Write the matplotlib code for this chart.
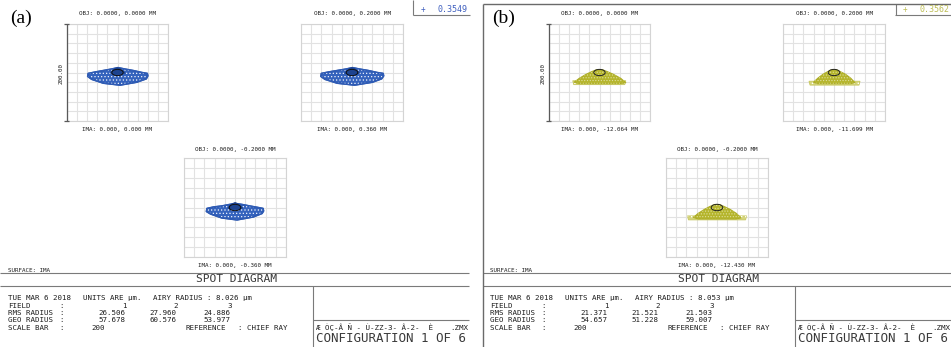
import matplotlib
matplotlib.use("Agg")
import matplotlib.pyplot as plt
import numpy as np
from matplotlib.lines import Line2D
from matplotlib.patches import Polygon, Ellipse

# ---------------------------------------------------------------- data
OBJ_LABELS = ["OBJ: 0.0000, 0.0000 MM", "OBJ: 0.0000, 0.2000 MM", "OBJ: 0.0000, -0.2000 MM"]
IMA_LABELS_A = ["IMA: 0.000, 0.000 MM", "IMA: 0.000, 0.360 MM", "IMA: 0.000, -0.360 MM"]
IMA_LABELS_B = ["IMA: 0.000, -12.064 MM", "IMA: 0.000, -11.699 MM", "IMA: 0.000, -12.430 MM"]
FIELDS = [1, 2, 3]
RMS_A = [26.506, 27.960, 24.886]
GEO_A = [57.678, 60.576, 53.977]
RMS_B = [21.371, 21.521, 21.503]
GEO_B = [54.657, 51.228, 59.007]
AIRY_A = 8.026
AIRY_B = 8.053
SCALE_BAR = 200
WAVE_A = 0.3549
WAVE_B = 0.3562

# spot envelopes in micrometres (x, y) relative to the chief ray
FAN_A1_X = [-58, -44, -28, -12, 1, 15, 31, 48, 59, 60, 57, 38, 5, -28, -51, -59]
FAN_A1_Y = [-2, 1, 4, 7, 10, 7, 4, 0, -2, -7, -13, -20, -26, -22, -14, -8]
FAN_A2_X = [-60, -46, -29, -12, 1, 15, 32, 49, 61, 62, 58, 40, 5, -29, -53, -61]
FAN_A2_Y = [-2, 1, 4, 7, 10, 7, 4, 0, -2, -7, -13, -20, -26, -22, -14, -8]
FAN_A3_X = [-55, -42, -26, -11, 1, 14, 29, 45, 55, 56, 53, 36, 4, -26, -48, -56]
FAN_A3_Y = [-2, 1, 3, 6, 8, 6, 3, 0, -2, -7, -12, -19, -25, -21, -13, -8]
DOME_A_X = [-14, -10, -5, 0, 5, 10, 15, 8, -8]
DOME_A_Y = [-1, 4, 8, 10, 8, 4, -1, -4, -4]

BODY_B1_X = [-50, -40, -27, -15, -5, 5, 15, 28, 42, 52, 40, -40]
BODY_B1_Y = [-20, -12, -4, 2, 6, 6, 2, -4, -12, -21, -23, -23]
BAND_B1_X = [-53, 52, 50, -51]
BAND_B1_Y = [-17, -17, -25, -25]
BODY_B2_X = [-40, -32, -22, -12, -4, 4, 12, 23, 33, 41, 32, -32]
BODY_B2_Y = [-20, -12, -4, 2, 6, 6, 2, -4, -12, -21, -23, -23]
BAND_B2_X = [-49, 51, 49, -47]
BAND_B2_Y = [-18, -18, -26, -26]
BODY_B3_X = [-46, -37, -25, -14, -5, 5, 14, 26, 38, 47, 37, -37]
BODY_B3_Y = [-20, -12, -4, 2, 6, 6, 2, -4, -12, -21, -23, -23]
BAND_B3_X = [-58, 58, 56, -56]
BAND_B3_Y = [-17, -17, -25, -25]

# ---------------------------------------------------------------- figure
W, H = 951, 347
plt.rcParams["font.family"] = ["DejaVu Sans Mono"]
plt.rcParams["hatch.linewidth"] = 0.5
fig = plt.figure(figsize=(W / 100, H / 100), dpi=100)
fig.patch.set_facecolor("white")

TXT = "#1e1e1e"
LINE = "#7a7a7a"


def T(x, y, s, size=5.4, ha="left", va="center", color=TXT, **kw):
    fig.text(x / W, 1 - y / H, s, fontsize=size, ha=ha, va=va, color=color, **kw)


def L(x0, y0, x1, y1, color=LINE, lw=0.8):
    fig.add_artist(Line2D([x0 / W, x1 / W], [1 - y0 / H, 1 - y1 / H],
                          transform=fig.transFigure, color=color, lw=lw,
                          solid_capstyle="butt"))


GRID = np.arange(-100, 101, 20)


def spot_axes(x0, y0, x1, y1):
    ax = fig.add_axes([x0 / W, 1 - y1 / H, (x1 - x0) / W, (y1 - y0) / H])
    ax.set_xlim(-SCALE_BAR / 2, SCALE_BAR / 2)
    ax.set_ylim(-SCALE_BAR / 2, SCALE_BAR / 2)
    ax.set_xticks(GRID)
    ax.set_yticks(GRID)
    ax.grid(True, color="#e2e2e2", lw=0.8)
    ax.tick_params(length=0, labelbottom=False, labelleft=False)
    for sp in ax.spines.values():
        sp.set_color("#d4d4d4")
        sp.set_linewidth(0.8)
    ax.set_axisbelow(True)
    return ax


def draw_fan(ax, xs, ys, airy):
    pts = np.column_stack([xs, ys])
    ax.add_patch(Polygon(pts, closed=True, facecolor="#3563bd",
                         edgecolor="#2a55ad", lw=1.2, joinstyle="round", zorder=3))
    ax.add_patch(Polygon(pts, closed=True, facecolor="none",
                         edgecolor="#eef2fb", lw=0, hatch=".....", zorder=4))
    ax.add_patch(Polygon(pts, closed=True, facecolor="none",
                         edgecolor="#2f5cb5", lw=1.0, joinstyle="round", zorder=4))
    ax.add_patch(Polygon(np.column_stack([DOME_A_X, DOME_A_Y]), closed=True,
                         facecolor="#1d438f", edgecolor="#1d438f", lw=0.6, zorder=5))
    ax.add_patch(Ellipse((0, 0), 2 * airy * 1.4, 2 * airy * 0.8, facecolor="none",
                         edgecolor="#111111", lw=0.7, zorder=6))


def draw_hill(ax, bx, by, nx, ny, airy):
    band = np.column_stack([nx, ny])
    ax.add_patch(Polygon(band, closed=True, facecolor="#d4d47c",
                         edgecolor="#c8c860", lw=0.6, zorder=3))
    ax.add_patch(Polygon(band, closed=True, facecolor="none",
                         edgecolor="white", lw=0, hatch="....", zorder=4))
    body = np.column_stack([bx, by])
    ax.add_patch(Polygon(body, closed=True, facecolor="#b5b52c",
                         edgecolor="#adad26", lw=0.8, joinstyle="round", zorder=5))
    ax.add_patch(Polygon(body, closed=True, facecolor="none",
                         edgecolor="#dede9a", lw=0, hatch="......", zorder=5))
    ax.add_patch(Ellipse((0, 0), 2 * airy * 1.4, 2 * airy * 0.8, facecolor="none",
                         edgecolor="#222222", lw=0.7, zorder=6))


def panel(ox, label, ima_labels, rms, geo, airy, wave, wave_color, spots, bordered):
    # plot boxes
    boxes = [(67, 24, 168, 121), (301, 24, 403, 121), (184, 158, 286, 257)]
    obj_y = [13, 13, 149]
    ima_y = [130, 130, 266]
    for i, (x0, y0, x1, y1) in enumerate(boxes):
        ax = spot_axes(ox + x0, y0, ox + x1, y1)
        spots[i](ax)
        cx = ox + (x0 + x1) / 2
        T(cx, obj_y[i], OBJ_LABELS[i], size=4.2, ha="center")
        T(cx, ima_y[i], ima_labels[i], size=4.2, ha="center")

    # scale bar on the first plot
    sx = ox + 67
    L(sx, 24, sx, 121, color="#5a5a5a", lw=0.9)
    L(sx - 3, 24, sx + 2, 24, color="#5a5a5a", lw=0.9)
    L(sx - 3, 121, sx + 2, 121, color="#5a5a5a", lw=0.9)
    T(ox + 61.5, 74, f"{SCALE_BAR:.2f}", size=4.2, ha="center", rotation=90)

    # panel tag
    T(ox + 10, 18, label, size=14, color="black", family="Liberation Serif")

    # wavelength legend
    if bordered:
        L(ox + 414, 4, ox + 414, 15)
    else:
        L(ox + 413, 0, ox + 413, 15)
    L(ox + 413, 15, ox + 470, 15)
    T(ox + 421, 9.5, "+", size=5.5, color=wave_color)
    T(ox + 468, 9.5, f"{wave:.4f}", size=6, ha="right", color=wave_color)

    # footer frame
    right = ox + 469
    L(ox + (1 if bordered else 0), 273, right, 273)
    L(ox + (1 if bordered else 0), 285.5, right, 285.5)
    L(ox + 313, 285.5, ox + 313, H)
    L(ox + 313, 320, right, 320)

    T(ox + 8, 270, "SURFACE: IMA", size=4.2)
    T(ox + 236, 279, "SPOT DIAGRAM", size=8.1, ha="center", color="#3a3a3a")

    rows = [298, 305.5, 313, 320.5, 328]
    T(ox + 8, rows[0], "TUE MAR 6 2018", size=5.4)
    T(ox + 83, rows[0], "UNITS ARE µm.", size=5.4)
    T(ox + 153, rows[0], f"AIRY RADIUS : {airy:.3f} µm", size=5.4)
    names = ["FIELD", "RMS RADIUS", "GEO RADIUS", "SCALE BAR"]
    for name, y in zip(names, rows[1:]):
        T(ox + 8, y, name, size=5.4)
        T(ox + 59, y, ":", size=5.4)
    col_right = [125, 176, 230]
    for j in range(3):
        T(ox + col_right[j] + 2, rows[1], f"{FIELDS[j]}", size=5.4, ha="right")
        T(ox + col_right[j], rows[2], f"{rms[j]:.3f}", size=5.4, ha="right")
        T(ox + col_right[j], rows[3], f"{geo[j]:.3f}", size=5.4, ha="right")
    T(ox + 91, rows[4], f"{SCALE_BAR}", size=5.4)
    T(ox + 186, rows[4], "REFERENCE", size=5.4)
    T(ox + 238, rows[4], ": CHIEF RAY", size=5.4)

    T(ox + 316, 327.5, "Æ ÒÇ-Â Ñ - Ù-ZZ-3- Â-2-  È", size=5.4)
    T(ox + 468, 327.5, ".ZMX", size=5.4, ha="right")
    T(ox + 316, 338, "CONFIGURATION 1 OF 6", size=9, color="#3a3a3a")


spots_a = [
    lambda ax: draw_fan(ax, FAN_A1_X, FAN_A1_Y, AIRY_A),
    lambda ax: draw_fan(ax, FAN_A2_X, FAN_A2_Y, AIRY_A),
    lambda ax: draw_fan(ax, FAN_A3_X, FAN_A3_Y, AIRY_A),
]
spots_b = [
    lambda ax: draw_hill(ax, BODY_B1_X, BODY_B1_Y, BAND_B1_X, BAND_B1_Y, AIRY_B),
    lambda ax: draw_hill(ax, BODY_B2_X, BODY_B2_Y, BAND_B2_X, BAND_B2_Y, AIRY_B),
    lambda ax: draw_hill(ax, BODY_B3_X, BODY_B3_Y, BAND_B3_X, BAND_B3_Y, AIRY_B),
]

panel(0, "(a)", IMA_LABELS_A, RMS_A, GEO_A, AIRY_A, WAVE_A, "#3f5fbf", spots_a, False)
panel(482, "(b)", IMA_LABELS_B, RMS_B, GEO_B, AIRY_B, WAVE_B, "#bdbd55", spots_b, True)

# outer frame of panel (b)
L(483, 4, 483, H, color="#6a6a6a", lw=1.0)
L(483, 4, W, 4, color="#6a6a6a", lw=1.0)

fig.savefig("out.png", dpi=100, facecolor="white")
